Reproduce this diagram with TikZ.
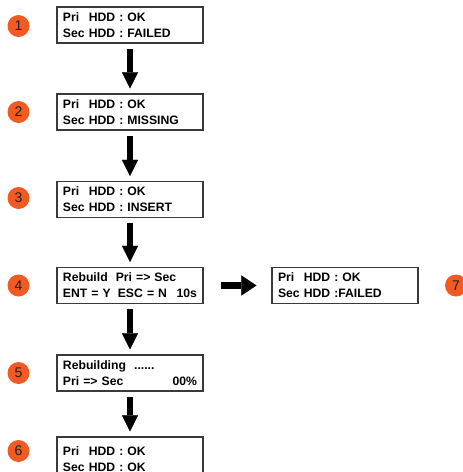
\documentclass[tikz,border=0pt]{standalone}
\usepackage{fontspec}
\setmainfont{Liberation Sans}
\usepackage{tikz}
\usetikzlibrary{arrows.meta, positioning}
\definecolor{StepOrange}{HTML}{F15A22}
\definecolor{FrameGray}{HTML}{3A3A3A}
\definecolor{DigitGray}{HTML}{222222}
\newcommand{\priHDD}{\rlap{Pri}\phantom{Sec} HDD}
\tikzset{
  % Box styles
  lcdbox/.style={rectangle, draw=FrameGray, line width=1.2pt, fill=white, minimum height=36pt, text width=134pt, inner xsep=6pt, align=left, font=\fontsize{12.2}{16}\selectfont\bfseries},
  % Node styles
  stepnum/.style={circle, fill=StepOrange, minimum size=22pt, inner sep=0pt, font=\fontsize{14}{14}\selectfont, text=DigitGray},
  % Arrow styles
  downarrow/.style={line width=6pt, -{Triangle[width=16pt, length=16pt, line width=0.1pt]}, shorten <=5pt, shorten >=5pt},
  sidearrow/.style={line width=7pt, -{Triangle[width=20pt, length=15pt, line width=0.1pt]}, shorten <=17pt, shorten >=15pt}
}
\begin{document}
\begin{tikzpicture}[x=1pt, y=-1pt]
  % Canvas
  \useasboundingbox (0,0) rectangle (463,472);
  \fill[white] (0,0) rectangle (463,472);
  \clip (0,0) rectangle (463,472);

  % Step numbers
  \foreach \n/\x/\y in {1/18.5/26, 2/18.5/112, 3/18.5/198, 4/18.5/285.5, 5/18.5/373, 6/18.5/451, 7/456/285.5} {
    \node[stepnum] (num\n) at (\x,\y) {\n};
  }

  % LCD screens
  \node[lcdbox] (lcd1) at (130,25) {\priHDD\ : OK\\Sec HDD : FAILED};
  \node[lcdbox] (lcd2) at (130,112) {\priHDD\ : OK\\Sec HDD : MISSING};
  \node[lcdbox] (lcd3) at (130,199.5) {\priHDD\ : OK\\Sec HDD : INSERT};
  \node[lcdbox] (lcd4) at (130,285.5) {Rebuild\hspace{4pt} Pri => Sec\\ENT = Y\hspace{3pt} ESC = N\hfill 10s};
  \node[lcdbox] (lcd5) at (130,373) {Rebuilding \ ......\\Pri => Sec\hfill 00\%};
  \node[lcdbox, minimum height=44pt] (lcd6) at (130,459) {\priHDD\ : OK\\Sec HDD : OK};
  \node[lcdbox] (lcd7) at (345,285.5) {\priHDD\ : OK\\Sec HDD :FAILED};

  % Flow
  \foreach \a/\b in {1/2, 2/3, 3/4, 4/5, 5/6} {
    \draw[downarrow] (lcd\a) -- (lcd\b);
  }
  \draw[sidearrow] (lcd4) -- (lcd7);
\end{tikzpicture}
\end{document}
